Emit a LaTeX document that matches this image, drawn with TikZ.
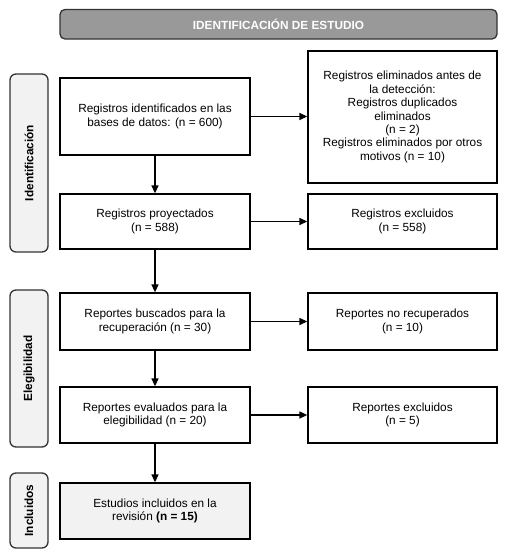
\documentclass[tikz,border=0pt]{standalone}
\usepackage{fontspec}
\setmainfont{Liberation Sans}
\usetikzlibrary{arrows.meta}
\definecolor{hdrgray}{HTML}{999999}
\definecolor{lightfill}{HTML}{F2F2F2}
\definecolor{edgegray}{HTML}{333333}
\begin{document}
\begin{tikzpicture}[x=1pt,y=-1pt,
  every node/.style={font=\fontsize{11.8}{13.4}\selectfont, inner sep=0pt, align=center},
  flowbox/.style={draw=black, line width=1.3pt, fill=white, minimum width=190pt},
  sidebox/.style={draw=edgegray, line width=1.3pt, fill=lightfill, rounded corners=6pt, minimum width=38pt},
  sidetext/.style={font=\fontsize{11.8}{13.4}\selectfont\bfseries, rotate=90},
  hdrbox/.style={draw=edgegray, line width=1.3pt, fill=hdrgray, rounded corners=5pt, minimum width=437pt, minimum height=29.5pt, text=white, font=\fontsize{11.8}{13.4}\selectfont\bfseries},
  arr/.style={line width=1.3pt, -{Triangle[length=8pt,width=7pt]}}
]
\useasboundingbox (0,0) rectangle (506,557);

\node[hdrbox] (hdr) at (278.5,24.25) {IDENTIFICACIÓN DE ESTUDIO};

\node[sidebox, minimum height=178pt] (s1) at (29,163) {};
\node[sidetext] (s1t) at (s1.center) {Identificación};
\node[sidebox, minimum height=157pt] (s2) at (29,368.5) {};
\node[sidetext] (s2t) at (s2.center) {Elegibilidad};
\node[sidebox, minimum height=75pt] (s3) at (29,510.5) {};
\node[sidetext] (s3t) at (s3.center) {Incluidos};

\node[flowbox, minimum height=77pt] (a) at (155,116.5) {Registros identificados en las\\bases de datos: (n = 600)};
\node[flowbox, minimum width=189pt, minimum height=132pt] (b) at (402.5,117) {Registros eliminados antes de\\la detección:\\Registros duplicados\\eliminados\\(n = 2)\\Registros eliminados por otros\\motivos (n = 10)};
\node[flowbox, minimum height=55pt] (c) at (155,221.5) {Registros proyectados\\(n = 588)};
\node[flowbox, minimum width=189pt, minimum height=55pt] (d) at (402.5,221.5) {Registros excluidos\\(n = 558)};
\node[flowbox, minimum height=57pt] (e) at (155,321.5) {Reportes buscados para la\\recuperación (n = 30)};
\node[flowbox, minimum width=189pt, minimum height=57pt] (f) at (402.5,321.5) {Reportes no recuperados\\(n = 10)};
\node[flowbox, minimum height=56pt] (g) at (155,415) {Reportes evaluados para la\\elegibilidad (n = 20)};
\node[flowbox, minimum width=189pt, minimum height=56pt] (h) at (402.5,415) {Reportes excluidos\\(n = 5)};
\node[flowbox, fill=lightfill, minimum height=56pt] (i) at (155,511) {Estudios incluidos en la\\revisión \textbf{(n = 15)}};

\draw[arr] (a.east) -- (a.east -| b.west);
\draw[arr] (a) -- (c);
\draw[arr] (c.east) -- (d.west);
\draw[arr] (c) -- (e);
\draw[arr] (e.east) -- (f.west);
\draw[arr] (e) -- (g);
\draw[arr] (g.east) -- (h.west);
\draw[arr] (g) -- (i);
\end{tikzpicture}
\end{document}
